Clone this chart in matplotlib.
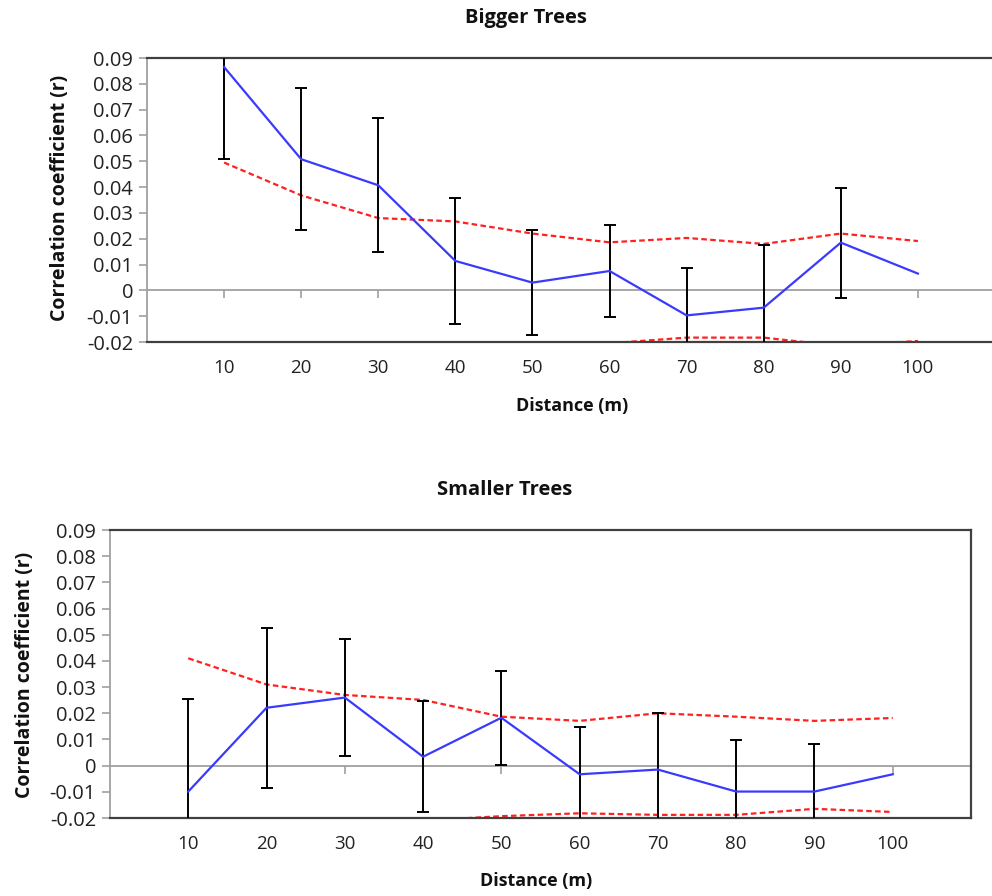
import numpy as np
import matplotlib.pyplot as plt
from matplotlib.ticker import FuncFormatter

plt.rcParams["font.family"] = ["Open Sans", "DejaVu Sans"]

BLUE = "#3A3AFF"
RED = "#FF2020"
GRID = "#A0A0A0"
BORDER = "#404040"

# ── DATA ──────────────────────────────────────────────────────────────────────
distance = [10, 20, 30, 40, 50, 60, 70, 80, 90, 100]

# Bigger trees
big_r     = [0.0865, 0.0508, 0.0407, 0.0114, 0.0030, 0.0075, -0.0097, -0.0067, 0.0185, 0.0065]
big_err   = [0.0357, 0.0274, 0.0260, 0.0243, 0.0202, 0.0180, 0.0182, 0.0243, 0.0213, np.nan]
big_upper = [0.0495, 0.0368, 0.0280, 0.0267, 0.0220, 0.0186, 0.0203, 0.0180, 0.0220, 0.0191]
big_lower = [-0.0490, -0.0360, -0.0280, -0.0260, -0.0225, -0.0205, -0.0183, -0.0183, -0.0216, -0.0196]

# Smaller trees
small_r     = [-0.0099, 0.0221, 0.0260, 0.0034, 0.0183, -0.0033, -0.0015, -0.0099, -0.0099, -0.0033]
small_err   = [0.0354, 0.0306, 0.0224, 0.0212, 0.0180, 0.0182, 0.0215, 0.0197, 0.0182, np.nan]
small_upper = [0.0410, 0.0310, 0.0270, 0.0251, 0.0187, 0.0171, 0.0200, 0.0187, 0.0171, 0.0182]
small_lower = [-0.0400, -0.0300, -0.0260, -0.0210, -0.0193, -0.0182, -0.0188, -0.0188, -0.0165, -0.0177]

YMIN, YMAX = -0.02, 0.09


def draw_panel(ax, r, err, upper, lower):
    x = np.arange(1, len(distance) + 1)
    ax.axhline(0, color=GRID, lw=1.3, zorder=1)
    ax.plot(x, np.zeros(len(x)), ls="none", marker=3, markersize=6,
            markeredgewidth=1.2, color=GRID, zorder=1, clip_on=False)
    ax.plot(x, upper, color=RED, lw=1.6, ls=(0, (2.5, 1.5)), zorder=2)
    ax.plot(x, lower, color=RED, lw=1.6, ls=(0, (2.5, 1.5)), zorder=2)
    ax.errorbar(x, r, yerr=err, fmt="none", ecolor="black", elinewidth=1.4,
                capsize=4, capthick=1.4, zorder=3)
    ax.plot(x, r, color=BLUE, lw=1.6, zorder=4)

    ax.set_xlim(0, len(distance) + 1)
    ax.set_ylim(YMIN, YMAX)
    ax.set_yticks(np.arange(-0.02, 0.0901, 0.01))
    ax.yaxis.set_major_formatter(FuncFormatter(lambda v, p: "0" if abs(v) < 1e-9 else f"{v:.2f}"))
    ax.set_xticks(x)
    ax.set_xticklabels([str(d) for d in distance])
    ax.tick_params(axis="x", length=0, pad=12, labelsize=13.5, colors="#222222")
    ax.tick_params(axis="y", length=6, width=1.2, color=GRID, pad=4,
                   labelsize=14.5, labelcolor="#222222", direction="out")
    for s in ["top", "right", "bottom"]:
        ax.spines[s].set_color(BORDER)
        ax.spines[s].set_linewidth(1.6)
    ax.spines["left"].set_color(GRID)
    ax.spines["left"].set_linewidth(1.3)


fig = plt.figure(figsize=(9.92, 8.96), dpi=100)

ax1 = fig.add_axes([147/992, 1 - 342/896, 848/992, 284/896])
draw_panel(ax1, big_r, big_err, big_upper, big_lower)

ax2 = fig.add_axes([110/992, 1 - 818/896, 861/992, 288/896])
draw_panel(ax2, small_r, small_err, small_upper, small_lower)

# titles and axis labels
fig.text(526/992, 1 - 18/896, "Bigger Trees", ha="center", va="center",
         fontsize=14.5, fontweight="bold", color="#111111")
fig.text(505/992, 1 - 490/896, "Smaller Trees", ha="center", va="center",
         fontsize=14.5, fontweight="bold", color="#111111")
fig.text(572/992, 1 - 406/896, "Distance (m)", ha="center", va="center",
         fontsize=13, fontweight="bold", color="#111111")
fig.text(536/992, 1 - 881/896, "Distance (m)", ha="center", va="center",
         fontsize=13, fontweight="bold", color="#111111")
fig.text(60/992, 1 - 198/896, "Correlation coefficient (r)", ha="center", va="center",
         rotation=90, fontsize=14, fontweight="bold", color="#111111")
fig.text(25/992, 1 - 675/896, "Correlation coefficient (r)", ha="center", va="center",
         rotation=90, fontsize=14, fontweight="bold", color="#111111")

fig.savefig("out.png", dpi=100)
